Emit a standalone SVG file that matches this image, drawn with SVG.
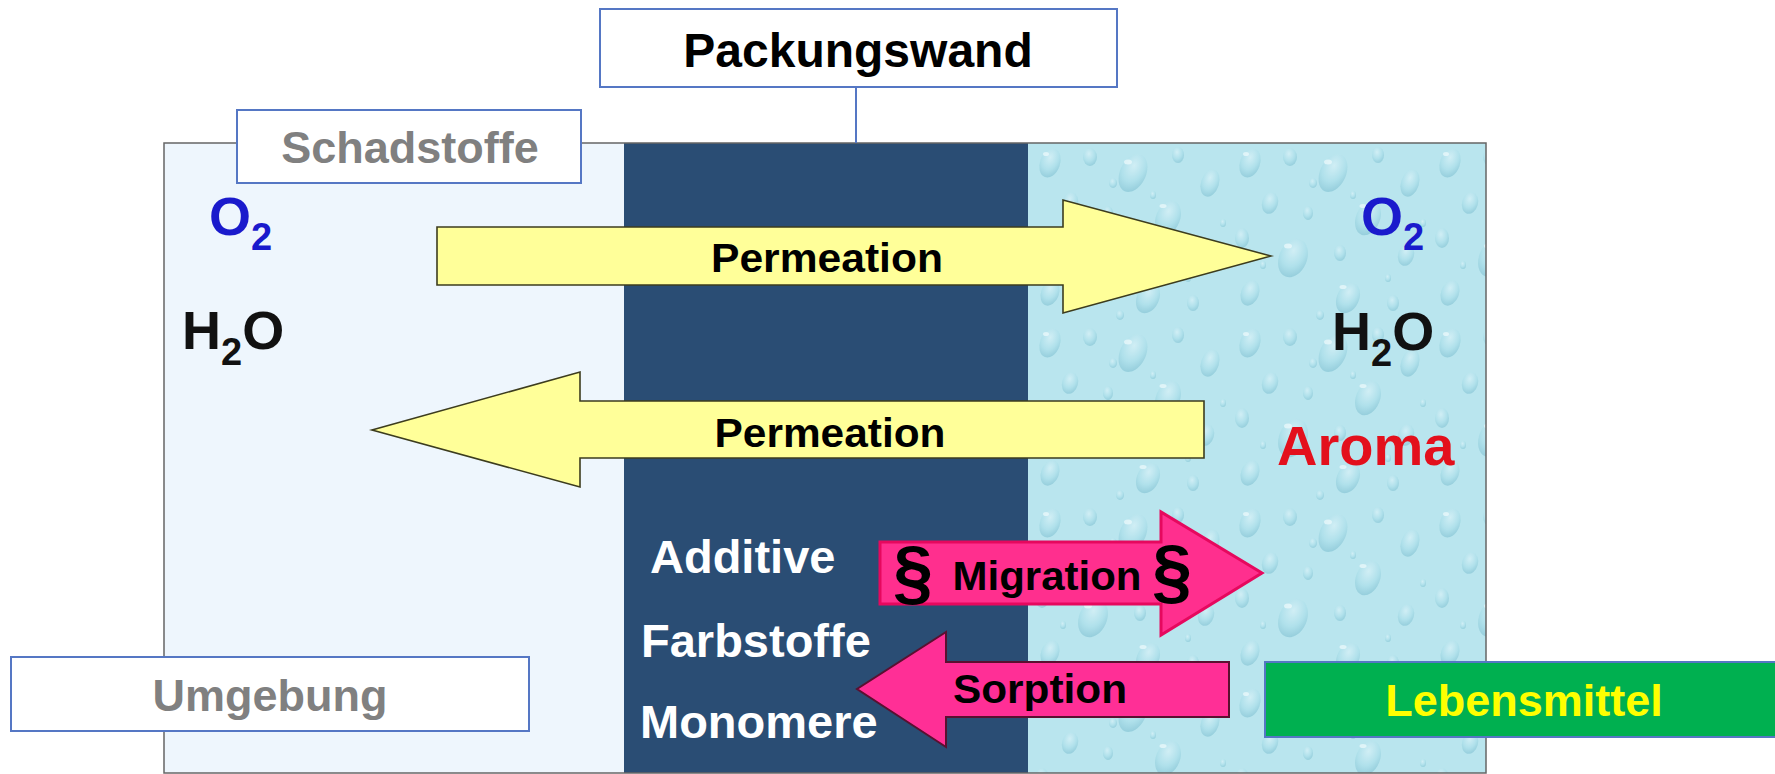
<svg xmlns="http://www.w3.org/2000/svg" width="1775" height="774" viewBox="0 0 1775 774">
<style>
.lbl{font-family:"Liberation Sans",Arial,sans-serif;font-weight:bold;}
.box{fill:#ffffff;stroke:#5577c4;stroke-width:2;}
.gray{fill:#808080;font-size:45px;text-anchor:middle;}
.chem{font-size:54px;}
.sub{font-size:38px;}
.wht{fill:#ffffff;font-size:47px;}
.arrtxt{fill:#000000;font-size:41px;text-anchor:middle;}
.yarrow{fill:#ffff99;stroke:#3c3c1e;stroke-width:1.6;stroke-linejoin:miter;}
.para{fill:#000000;font-size:72px;text-anchor:middle;font-family:"Liberation Sans",Arial,sans-serif;font-weight:bold;}
</style>
<defs>
<radialGradient id="dropG" cx="0.42" cy="0.32" r="0.7">
<stop offset="0" stop-color="#d9f2f7"/>
<stop offset="0.6" stop-color="#ade0ea"/>
<stop offset="1" stop-color="#8ac7d6"/>
</radialGradient>
<pattern id="water" x="1028" y="143" width="200" height="180" patternUnits="userSpaceOnUse">
<rect width="200" height="180" fill="#b9e5ee"/>
<g fill="url(#dropG)" opacity="0.75">
<ellipse cx="22" cy="20" rx="10" ry="15" transform="rotate(20 22 20)"/>
<ellipse cx="62" cy="14" rx="7" ry="9"/>
<ellipse cx="105" cy="30" rx="13" ry="20" transform="rotate(25 105 30)"/>
<ellipse cx="150" cy="12" rx="6" ry="8"/>
<ellipse cx="182" cy="40" rx="9" ry="14" transform="rotate(18 182 40)"/>
<ellipse cx="42" cy="60" rx="8" ry="11" transform="rotate(15 42 60)"/>
<ellipse cx="80" cy="70" rx="5" ry="7"/>
<ellipse cx="140" cy="75" rx="12" ry="18" transform="rotate(22 140 75)"/>
<ellipse cx="14" cy="95" rx="7" ry="10"/>
<ellipse cx="65" cy="115" rx="14" ry="20" transform="rotate(22 65 115)"/>
<ellipse cx="112" cy="110" rx="6" ry="8"/>
<ellipse cx="178" cy="112" rx="8" ry="11" transform="rotate(15 178 112)"/>
<ellipse cx="22" cy="150" rx="9" ry="13" transform="rotate(20 22 150)"/>
<ellipse cx="120" cy="155" rx="11" ry="16" transform="rotate(25 120 155)"/>
<ellipse cx="165" cy="160" rx="6" ry="8"/>
<ellipse cx="85" cy="40" rx="4" ry="5"/>
<ellipse cx="35" cy="122" rx="3" ry="4"/>
<ellipse cx="125" cy="52" rx="3" ry="4"/>
<ellipse cx="160" cy="135" rx="3" ry="4"/>
<ellipse cx="92" cy="172" rx="4" ry="5"/>
<ellipse cx="195" cy="80" rx="3" ry="4"/>
</g>
<g fill="#effbfd" opacity="0.7">
<ellipse cx="100" cy="19" rx="4" ry="2.5"/>
<ellipse cx="60" cy="103" rx="4" ry="2.5"/>
<ellipse cx="135" cy="63" rx="3.5" ry="2"/>
<ellipse cx="18" cy="11" rx="3" ry="2"/>
<ellipse cx="115" cy="144" rx="3.5" ry="2"/>
</g>
</pattern>
</defs>

<g id="panel">
<rect x="164" y="143" width="460" height="630" fill="#eef6fd"/>
<rect x="624" y="143" width="404" height="630" fill="#2a4d74"/>
<rect x="1028" y="143" width="458" height="630" fill="url(#water)"/>
<rect x="164" y="143" width="1322" height="630" fill="none" stroke="#666666" stroke-width="1.5"/>
</g>

<g id="connectors">
<line x1="856" y1="87" x2="856" y2="143" stroke="#5577c4" stroke-width="2"/>
</g>

<g id="left-substances" class="lbl">
<text x="209" y="235" class="chem" fill="#1a1acc">O<tspan class="sub" dy="15">2</tspan></text>
<text x="182" y="349" class="chem" fill="#111111">H<tspan class="sub" dy="16">2</tspan><tspan dy="-16">O</tspan></text>
</g>

<g id="right-substances" class="lbl">
<text x="1361" y="235" class="chem" fill="#1a1acc">O<tspan class="sub" dy="15">2</tspan></text>
<text x="1332" y="350" class="chem" fill="#111111">H<tspan class="sub" dy="16">2</tspan><tspan dy="-16">O</tspan></text>
<text x="1277" y="465" font-size="56" fill="#e3101c">Aroma</text>
</g>

<g id="wall-substances" class="lbl">
<text x="650" y="573" class="wht">Additive</text>
<text x="641" y="657" class="wht">Farbstoffe</text>
<text x="640" y="738" class="wht">Monomere</text>
</g>

<g id="permeation-in">
<polygon class="yarrow" points="437,227 1063,227 1063,200 1271,256 1063,313 1063,285 437,285"/>
<text x="827" y="272" class="lbl arrtxt" textLength="232" lengthAdjust="spacingAndGlyphs">Permeation</text>
</g>

<g id="permeation-out">
<polygon class="yarrow" points="1204,401 580,401 580,372 372,430 580,487 580,458 1204,458"/>
<text x="830" y="447" class="lbl arrtxt" textLength="231" lengthAdjust="spacingAndGlyphs">Permeation</text>
</g>

<g id="migration">
<polygon points="880,542 1161,542 1161,512 1262,573 1161,635 1161,604 880,604" fill="#ff2f8e" stroke="#e6085e" stroke-width="3" stroke-linejoin="miter"/>
<text x="1047" y="590" class="lbl arrtxt" textLength="189" lengthAdjust="spacingAndGlyphs">Migration</text>
<text x="913" y="597" class="para">§</text>
<text x="1172" y="596" class="para">§</text>
</g>

<g id="sorption">
<polygon points="1229,662 946,662 946,632 857,689 946,747 946,717 1229,717" fill="#ff2f96" stroke="#5a1030" stroke-width="2" stroke-linejoin="miter"/>
<text x="1040" y="703" class="lbl arrtxt" textLength="174" lengthAdjust="spacingAndGlyphs">Sorption</text>
</g>

<g id="packungswand">
<rect x="600" y="9" width="517" height="78" class="box"/>
<text x="858" y="67" class="lbl" font-size="48" text-anchor="middle" fill="#000000">Packungswand</text>
</g>

<g id="schadstoffe">
<rect x="237" y="110" width="344" height="73" class="box"/>
<text x="410" y="163" class="lbl gray">Schadstoffe</text>
</g>

<g id="umgebung">
<rect x="11" y="657" width="518" height="74" class="box"/>
<text x="270" y="711" class="lbl gray">Umgebung</text>
</g>

<g id="lebensmittel">
<rect x="1265" y="662" width="520" height="75" fill="#00b050" stroke="#5577c4" stroke-width="2"/>
<text x="1524" y="716" class="lbl" font-size="45" text-anchor="middle" fill="#ffff00">Lebensmittel</text>
</g>
</svg>
